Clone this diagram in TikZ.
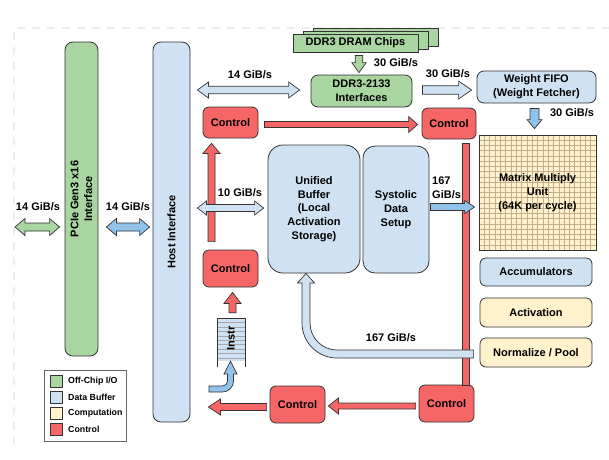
\documentclass[tikz,border=0pt]{standalone}
\usepackage{fontspec}
\setmainfont{Liberation Sans}
\usetikzlibrary{calc}
\definecolor{cgreen}{HTML}{A8D5A0}
\definecolor{cblue}{HTML}{CFE2F3}
\definecolor{cmblue}{HTML}{91C3EA}
\definecolor{cred}{HTML}{F66666}
\definecolor{ccream}{HTML}{FFF2CC}
\definecolor{cborder}{HTML}{333333}
\definecolor{cgrid}{HTML}{C4AD88}
\newcommand\fatarrow[6]{%
  \coordinate (faH) at ($(#3)!#6!(#2)$);
  \draw[#1] ($(#2)!#4!90:(#3)$) -- ($(faH)!#4!90:(#3)$) -- ($(faH)!#5!90:(#3)$) -- (#3) -- ($(faH)!#5!-90:(#3)$) -- ($(faH)!#4!-90:(#3)$) -- ($(#2)!#4!-90:(#3)$) -- cycle;}
\newcommand\dblarrow[6]{%
  \coordinate (faHa) at ($(#2)!#6!(#3)$);
  \coordinate (faHb) at ($(#3)!#6!(#2)$);
  \draw[#1] (#2) -- ($(faHa)!#5!90:(#3)$) -- ($(faHa)!#4!90:(#3)$) -- ($(faHb)!#4!90:(#3)$) -- ($(faHb)!#5!90:(#3)$) -- (#3) -- ($(faHb)!#5!-90:(#3)$) -- ($(faHb)!#4!-90:(#3)$) -- ($(faHa)!#4!-90:(#3)$) -- ($(faHa)!#5!-90:(#3)$) -- cycle;}
\begin{document}
\begin{tikzpicture}[x=1pt,y=-1pt,
  txt/.style={font=\bfseries\fontsize{11}{13.7}\selectfont},
  box/.style={txt, draw=cborder, line width=0.8pt, rounded corners=6pt, align=center, inner sep=0pt},
  ctrl/.style={box, fill=cred, minimum width=55pt, minimum height=37pt},
  lbl/.style={txt, inner sep=0pt},
  fat/.style={draw=cborder, line width=0.7pt, line join=miter},
  fatg/.style={fat, fill=cgreen},
  fatlb/.style={fat, fill=cblue},
  fatmb/.style={fat, fill=cmblue},
  fatr/.style={fat, fill=cred},
  gridline/.style={draw=cgrid, line width=0.5pt},
  faint/.style={draw=black!7, line width=1.3pt, dash pattern=on 8pt off 7pt},
  legsw/.style={draw=cborder, line width=0.7pt},
  legtxt/.style={font=\bfseries\fontsize{8.8}{10}\selectfont, anchor=west, inner sep=0pt}]
\useasboundingbox (0,0) rectangle (609,459);
\fill[white] (0,0) rectangle (609,459);
\draw[faint] (14,445) -- (14,28) -- (609,28);

% ---- main blocks
\node[box, fill=cgreen, minimum width=33pt, minimum height=314pt, rounded corners=8pt] (pcie) at (81.5,199) {};
\node[lbl, rotate=90, align=center] (pcietxt) at (pcie.center) {PCIe Gen3 x16\\Interface};
\node[box, fill=cblue, minimum width=37pt, minimum height=380pt, rounded corners=8pt] (host) at (171.5,232) {};
\node[lbl, rotate=90] (hosttxt) at (host.center) {Host Interface};

\node[box, fill=cgreen, rounded corners=0pt, minimum width=125pt, minimum height=18pt] (chipsc) at (375.5,37) {};
\node[box, fill=cgreen, rounded corners=0pt, minimum width=125pt, minimum height=18pt] (chipsb) at (365.5,40) {};
\node[box, fill=cgreen, rounded corners=0pt, minimum width=125pt, minimum height=18pt] (chips) at (355.5,43) {DDR3 DRAM Chips};
\node[box, fill=cgreen, minimum width=101pt, minimum height=32pt, rounded corners=7pt] (ddr) at (361.5,91) {DDR3-2133\\Interfaces};
\node[box, fill=cblue, minimum width=119pt, minimum height=32pt, rounded corners=7pt] (wfifo) at (536.5,87) {Weight FIFO\\(Weight Fetcher)};

\fill[ccream] (479,135) rectangle (596,250);
\foreach \i in {1,...,21} {
  \draw[gridline] ({479+\i*117/22},135) -- ({479+\i*117/22},250);
  \draw[gridline] (479,{135+\i*115/22}) -- (596,{135+\i*115/22});
}
\node[box, minimum width=117pt, minimum height=115pt, rounded corners=0pt, font=\bfseries\fontsize{11}{14}\selectfont] (mmu) at (537.5,192.5) {Matrix Multiply\\Unit\\(64K per cycle)};

\node[box, fill=cblue, minimum width=92pt, minimum height=128pt, rounded corners=15pt] (ub) at (314,209) {Unified\\Buffer\\(Local\\Activation\\Storage)};
\node[box, fill=cblue, minimum width=66pt, minimum height=127pt, rounded corners=12pt] (sds) at (396,209.5) {Systolic\\Data\\Setup};

\node[box, fill=cblue, minimum width=112pt, minimum height=28pt] (acc) at (536,272) {Accumulators};
\node[box, fill=ccream, minimum width=112pt, minimum height=29pt] (act) at (536,312.5) {Activation};
\node[box, fill=ccream, minimum width=112pt, minimum height=29pt] (norm) at (536,352.5) {Normalize / Pool};

\node[ctrl, minimum height=31pt] (ctrl1) at (230.5,122.5) {Control};
\node[ctrl, minimum width=54pt, minimum height=31pt] (ctrl2) at (449,123.5) {Control};
\node[ctrl] (ctrl4) at (230.5,268.5) {Control};
\node[ctrl] (ctrl5) at (297.5,404.5) {Control};
\node[ctrl] (ctrl3) at (446.5,403.5) {Control};

% ---- instruction queue
\node[minimum width=28pt, minimum height=43pt, inner sep=0pt] (instr) at (231,339.5) {};
\fill[cblue] (217,318.3) rectangle (245,361);
\foreach \k in {1,...,9} \draw[draw=black!35, line width=0.5pt] (217,{318.3+\k*4.4}) -- (245,{318.3+\k*4.4});
\draw[cborder, line width=0.7pt] (217,367) -- (217,318.3) -- (245,318.3) -- (245,367);
\node[lbl, rotate=90] (instrtxt) at (231,338.5) {Instr};

% ---- red control paths
\draw[fatr] ($(ctrl2.south)+(13,4)$) rectangle ($(ctrl3.north)+(22.5,1)$);
\coordinate (rA) at ($(ctrl1.east)+(6,2)$);
\coordinate (rB) at ($(rA-|ctrl2.west)+(-4,0)$);
\fatarrow{fatr}{rA}{rB}{3pt}{8pt}{9pt}
\coordinate (ruA) at ($(ctrl4.north)+(-19,-8)$);
\coordinate (ruB) at ($(ruA|-ctrl1.south)+(0,5)$);
\fatarrow{fatr}{ruA}{ruB}{3.5pt}{8.5pt}{10pt}
\coordinate (iuA) at ($(instr.north)+(1.5,-5)$);
\coordinate (iuB) at ($(iuA|-ctrl4.south)+(0,5)$);
\fatarrow{fatr}{iuA}{iuB}{3.5pt}{8.5pt}{11pt}
\coordinate (cA) at ($(ctrl3.west)+(-3,2.5)$);
\coordinate (cB) at ($(cA-|ctrl5.east)+(3,0)$);
\fatarrow{fatr}{cA}{cB}{3pt}{8pt}{10pt}
\coordinate (hA) at ($(ctrl5.west)+(-3,2.5)$);
\coordinate (hB) at ($(hA-|host.east)+(18,0)$);
\fatarrow{fatr}{hA}{hB}{3.5pt}{8pt}{12pt}

% ---- data paths
\coordinate (ioL) at (15,227);
\coordinate (ioR) at ($(pcie.west|-ioL)+(-5,0)$);
\dblarrow{fatg}{ioL}{ioR}{4pt}{8.5pt}{10pt}
\coordinate (phL) at ($(pcie.east|-ioL)+(8,0)$);
\coordinate (phR) at ($(host.west|-ioL)+(-3,0)$);
\dblarrow{fatmb}{phL}{phR}{4pt}{8.5pt}{10pt}
\coordinate (tR) at ($(ddr.west)+(-11,-1)$);
\coordinate (tL) at ($(host.east|-tR)+(7,0)$);
\dblarrow{fatlb}{tL}{tR}{3.7pt}{8pt}{11pt}
\coordinate (dgA) at ($(chips.south)+(3.5,3)$);
\coordinate (dgB) at ($(dgA|-ddr.north)+(0,-2)$);
\fatarrow{fatg}{dgA}{dgB}{3.8pt}{7.2pt}{10pt}
\coordinate (wA) at ($(ddr.east)+(10,-1)$);
\coordinate (wB) at ($(wA-|wfifo.west)+(-5,0)$);
\fatarrow{fatlb}{wA}{wB}{4.3pt}{9pt}{13pt}
\coordinate (bdA) at ($(wfifo.south)+(-2,5)$);
\coordinate (bdB) at ($(bdA|-mmu.north)+(0,-6)$);
\fatarrow{fatmb}{bdA}{bdB}{4.5pt}{7.5pt}{9pt}
\coordinate (tgR) at ($(ub.west)+(-4,-1)$);
\coordinate (tgL) at ($(tgR-|host.east)+(7,0)$);
\dblarrow{fatlb}{tgL}{tgR}{3.5pt}{7pt}{9pt}
\coordinate (smA) at ($(sds.east)+(1,-2.5)$);
\coordinate (smB) at ($(smA-|mmu.west)+(-4,0)$);
\fatarrow{fatmb}{smA}{smB}{3.5pt}{6.5pt}{10pt}

% return path from Normalize/Pool to Unified Buffer
\coordinate (retA) at ($(norm.west)+(-6,1.5)$);
\draw[fatlb] (retA|-0,350) -- (337,350) arc[start angle=90,end angle=180,radius=27] -- (310,283) -- (314.5,283) -- (ub.south-|306,0) -- (297.5,283) -- (302,283) -- (302,323) arc[start angle=180,end angle=90,radius=35] -- (retA|-0,358) -- cycle;

% instruction feed
\draw[fatmb] (209,392) -- (222.5,392) arc[start angle=90,end angle=0,radius=11] -- (233.5,374) -- (237,374) -- (instr.south-|230.5,0) -- (224,374) -- (227.5,374) -- (227.5,381) arc[start angle=0,end angle=90,radius=5] -- (209,386) -- cycle;

% ---- labels
\node[lbl] (l1) at (38,207) {14 GiB/s};
\node[lbl] (l2) at (128,207) {14 GiB/s};
\node[lbl] (l3) at (250,75) {14 GiB/s};
\node[lbl] (l4) at (396,63) {30 GiB/s};
\node[lbl] (l5) at (448,74) {30 GiB/s};
\node[lbl] (l6) at (572,113) {30 GiB/s};
\node[lbl] (l7) at (240,193) {10 GiB/s};
\node[lbl, align=left, anchor=west] (l8) at (432,188) {167\\GiB/s};
\node[lbl] (l9) at (391,338) {167 GiB/s};

% ---- legend
\draw[draw=black!60, line width=0.8pt] (44,370) rectangle (126,441);
\node[legsw, fill=cgreen, minimum size=12pt, inner sep=0pt] (sw1) at (56,381) {};
\node[legsw, fill=cblue, minimum size=12pt, inner sep=0pt] (sw2) at (56,397.5) {};
\node[legsw, fill=ccream, minimum size=12pt, inner sep=0pt] (sw3) at (56,413.5) {};
\node[legsw, fill=cred, minimum size=12pt, inner sep=0pt] (sw4) at (56,429) {};
\node[legtxt] (lt1) at (68,381) {Off-Chip I/O};
\node[legtxt] (lt2) at (68,397.5) {Data Buffer};
\node[legtxt] (lt3) at (68,413.5) {Computation};
\node[legtxt] (lt4) at (68,429) {Control};
\end{tikzpicture}
\end{document}
